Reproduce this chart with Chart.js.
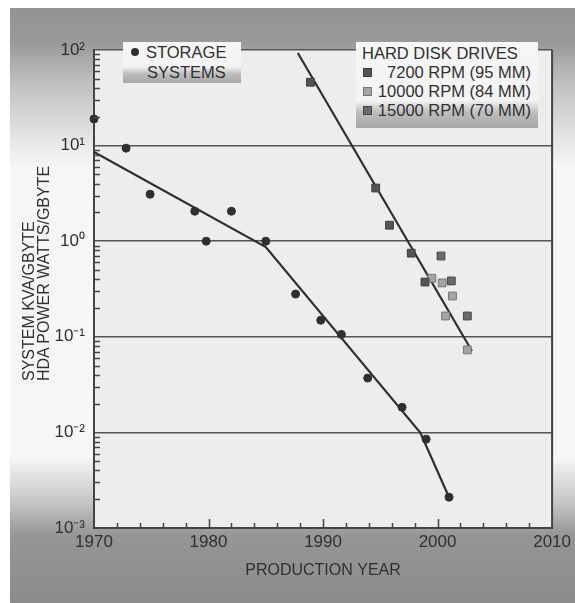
<!DOCTYPE html>
<html>
<head>
<meta charset="utf-8">
<script src="https://cdn.jsdelivr.net/npm/chart.js@4.4.1/dist/chart.umd.min.js"></script>
<style>
body { margin: 0; background: #fff; }
#wrap { position: relative; width: 575px; height: 603px; overflow: hidden; background: #fff;
        font-family: "Liberation Sans", Arial, sans-serif; color: #303030; }
#fundo { position: absolute; left: 10px; top: 8px; width: 565px; height: 595px;
         background: linear-gradient(to bottom, #939393 0px, #9a9a9a 36px, #c0c0c0 75px, #ebebeb 140px,
                     #f6f6f6 160px, #f6f6f6 450px, #c4c4c4 495px, #959595 528px, #8c8c8c 595px); }
#grafico { position: absolute; left: 0; top: 0; }
.caixa { position: absolute; background: linear-gradient(to bottom, #f6f6f6 0%, #f3f3f3 60%, #bdbdbd 78%, #a8a8a8 100%); }
.txt { position: absolute; font-size: 16.5px; line-height: 19px; white-space: nowrap; }
.marca { position: absolute; width: 9px; height: 9px; box-sizing: border-box; }
#titulo-y { position: absolute; left: 21px; top: 381px; transform: rotate(-90deg); transform-origin: 0 0;
            font-size: 16px; line-height: 15px; white-space: nowrap; }
</style>
</head>
<body>
<div id="wrap">
    <div id="fundo"></div>
    <canvas id="grafico" width="575" height="603"></canvas>

    <!-- legenda: storage -->
    <div class="caixa" style="left:123px; top:42px; width:118px; height:41px;"></div>
    <div class="marca" style="left:131px; top:48px; width:8px; height:8px; border-radius:50%; background:#2f2f2f;"></div>
    <div class="txt" style="left:146px; top:43px;">STORAGE</div>
    <div class="txt" style="left:147px; top:63px;">SYSTEMS</div>

    <!-- legenda: hard disk drives -->
    <div class="caixa" style="left:356px; top:42px; width:182px; height:86px; background:linear-gradient(to bottom, #f6f6f6 0%, #f3f3f3 68%, #bdbdbd 82%, #a6a6a6 100%);"></div>
    <div class="txt" style="left:362px; top:44px;">HARD DISK DRIVES</div>
    <div class="marca" style="left:363px; top:68px; background:#555; border:1px solid #3d3d3d;"></div>
    <div class="txt" style="left:375px; top:63px; width:156px; text-align:right;">7200 RPM (95 MM)</div>
    <div class="marca" style="left:363px; top:87px; background:#a4a4a4; border:1px solid #777;"></div>
    <div class="txt" style="left:375px; top:82px; width:156px; text-align:right;">10000 RPM (84 MM)</div>
    <div class="marca" style="left:363px; top:106px; background:#6a6a6a; border:1px solid #444;"></div>
    <div class="txt" style="left:375px; top:101px; width:156px; text-align:right;">15000 RPM (70 MM)</div>

    <div id="titulo-y">SYSTEM KVA/GBYTE<br>HDA POWER WATTS/GBYTE</div>
</div>

<script>
// =====================
// DADOS
// =====================
const storageYears  = [1970, 1972.8, 1974.9, 1978.8, 1979.8, 1982.0, 1985.0, 1987.6, 1989.8, 1991.6, 1993.9, 1996.9, 1999.0, 2001.0];
const storageValues = [19, 9.4, 3.1, 2.06, 1.0, 2.06, 1.0, 0.28, 0.149, 0.106, 0.037, 0.0183, 0.0085, 0.0021];

const rpm7200Years   = [1988.9, 1994.6, 1995.8, 1997.7, 1998.9];
const rpm7200Values  = [46, 3.6, 1.47, 0.75, 0.374];
const rpm10000Years  = [1999.5, 2000.4, 2001.3, 2000.7, 2002.6];
const rpm10000Values = [0.41, 0.366, 0.267, 0.165, 0.073];
const rpm15000Years  = [2000.3, 2001.2, 2002.6];
const rpm15000Values = [0.70, 0.384, 0.165];

// linhas de tendência
const storageFitYears  = [1970, 1985.0, 1998.5, 2001.0];
const storageFitValues = [8.57, 0.869, 0.0099, 0.0021];
const hddFitYears  = [1987.8, 2003.0];
const hddFitValues = [93, 0.071];

const xTicks = [1970, 1980, 1990, 2000, 2010];
const yTicks = [0.001, 0.01, 0.1, 1, 10, 100];
const yTickLabels = ["10\u207B\u00B3", "10\u207B\u00B2", "10\u207B\u00B9", "10\u2070", "10\u00B9", "10\u00B2"];

function pontos(xs, ys) {
    return xs.map((x, i) => ({ x: x, y: ys[i] }));
}

const FONTE = "'Liberation Sans', Arial, sans-serif";
const COR_TEXTO = "#303030";

// =====================
// MOLDURA E MARCAS MENORES
// =====================
const moldura = {
    id: "moldura",
    beforeDraw(chart) {
        let { ctx, chartArea: a } = chart;
        ctx.save();
        ctx.fillStyle = "#ededed";
        ctx.fillRect(a.left, a.top, a.right - a.left, a.bottom - a.top);
        ctx.restore();
    },
    afterDraw(chart) {
        let { ctx, chartArea: a } = chart;
        let sx = chart.scales.x, sy = chart.scales.y;
        ctx.save();
        ctx.strokeStyle = "#444";
        ctx.lineWidth = 2;
        ctx.beginPath();
        ctx.moveTo(a.right, a.top);
        ctx.lineTo(a.right, a.bottom);
        ctx.stroke();

        ctx.lineWidth = 1.5;
        ctx.beginPath();
        // y: marcas de 2 a 9 em cada década
        for (let d = -3; d < 2; d++) {
            for (let k = 2; k <= 9; k++) {
                let y = Math.round(sy.getPixelForValue(k * Math.pow(10, d))) + 0.5;
                ctx.moveTo(a.left, y);
                ctx.lineTo(a.left + 6, y);
            }
        }
        // x: a cada 2 anos, maior nas décadas
        for (let ano = 1972; ano < 2010; ano += 2) {
            let x = Math.round(sx.getPixelForValue(ano)) + 0.5;
            let h = ano % 10 === 0 ? 9 : 5;
            ctx.moveTo(x, a.bottom);
            ctx.lineTo(x, a.bottom - h);
        }
        ctx.stroke();
        ctx.restore();
    }
};

// =====================
// GRÁFICO
// =====================
const ctx = document.getElementById("grafico").getContext("2d");
new Chart(ctx, {
    type: "scatter",
    data: {
        datasets: [
            { label: "Storage systems", data: pontos(storageYears, storageValues), pointStyle: "circle",
              pointRadius: 4, backgroundColor: "#2f2f2f", borderColor: "#2f2f2f", clip: false },
            { label: "7200 RPM (95 MM)", data: pontos(rpm7200Years, rpm7200Values), pointStyle: "rect",
              pointRadius: 5.5, backgroundColor: "#555", borderColor: "#3d3d3d", borderWidth: 1 },
            { label: "10000 RPM (84 MM)", data: pontos(rpm10000Years, rpm10000Values), pointStyle: "rect",
              pointRadius: 5.5, backgroundColor: "#a4a4a4", borderColor: "#777", borderWidth: 1 },
            { label: "15000 RPM (70 MM)", data: pontos(rpm15000Years, rpm15000Values), pointStyle: "rect",
              pointRadius: 5.5, backgroundColor: "#6a6a6a", borderColor: "#444", borderWidth: 1 },
            { label: "Storage fit", data: pontos(storageFitYears, storageFitValues), showLine: true,
              pointRadius: 0, borderColor: "#2e2e2e", borderWidth: 2.2 },
            { label: "HDD fit", data: pontos(hddFitYears, hddFitValues), showLine: true,
              pointRadius: 0, borderColor: "#2e2e2e", borderWidth: 2.2 }
        ]
    },
    options: {
        responsive: false,
        animation: false,
        layout: { padding: { left: 10, top: 50, right: 20, bottom: 0 } },
        plugins: {
            legend: { display: false },
            tooltip: { enabled: false }
        },
        scales: {
            x: {
                type: "linear",
                min: 1970,
                max: 2010,
                afterFit: s => { s.height = 75; },
                afterBuildTicks: s => { s.ticks = xTicks.map(v => ({ value: v })); },
                grid: { display: false, drawTicks: false },
                border: { color: "#444", width: 2 },
                ticks: { padding: 4, color: COR_TEXTO, maxRotation: 0,
                         font: { family: FONTE, size: 17 }, callback: v => String(v) },
                title: { display: true, text: "PRODUCTION YEAR", color: COR_TEXTO,
                         font: { family: FONTE, size: 16 }, padding: { top: 0, bottom: 23 } }
            },
            y: {
                type: "logarithmic",
                min: 0.001,
                max: 100,
                afterFit: s => { s.width = 84; },
                afterBuildTicks: s => { s.ticks = yTicks.map(v => ({ value: v })); },
                grid: { color: "#555", lineWidth: 1.5, drawTicks: false },
                border: { color: "#444", width: 2 },
                ticks: { padding: 9, color: COR_TEXTO, font: { family: FONTE, size: 17 },
                         callback: (v, i) => yTickLabels[i] }
            }
        }
    },
    plugins: [moldura]
});
</script>
</body>
</html>
